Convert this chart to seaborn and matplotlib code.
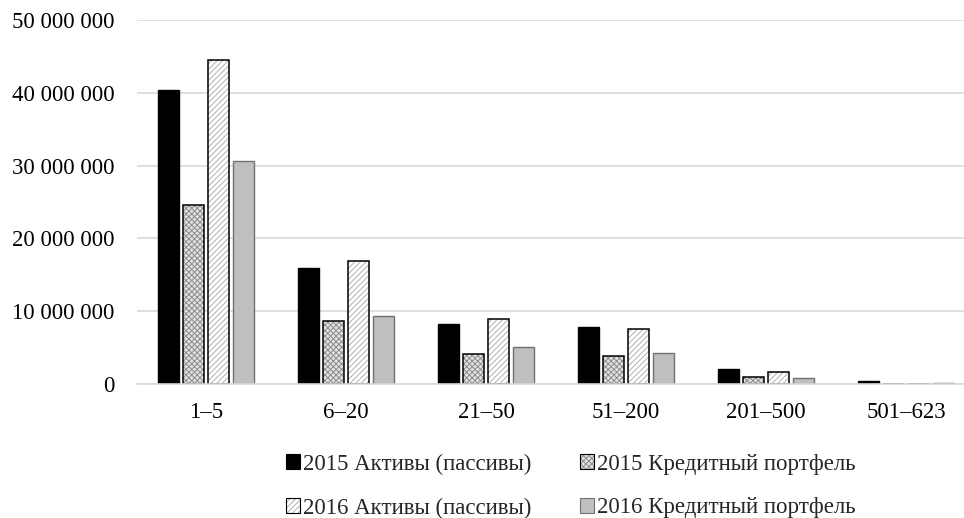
import matplotlib
matplotlib.use("Agg")
import matplotlib.pyplot as plt
import seaborn as sns
import pandas as pd
from matplotlib.patches import Rectangle, Patch
from matplotlib.ticker import FuncFormatter

categories = ["1–5", "6–20", "21–50", "51–200", "201–500", "501–623"]
series_names = ["2015 Активы (пассивы)", "2015 Кредитный портфель",
                "2016 Активы (пассивы)", "2016 Кредитный портфель"]
assets_2015 = [40400000, 15900000, 8200000, 7800000, 2100000, 350000]
credit_2015 = [24600000, 8600000, 4100000, 3800000, 1000000, 20000]
assets_2016 = [44500000, 16900000, 8900000, 7500000, 1600000, 30000]
credit_2016 = [30600000, 9400000, 5100000, 4300000, 850000, 150000]
y_ticks = [0, 10000000, 20000000, 30000000, 40000000, 50000000]

rows = []
for name, vals in zip(series_names, [assets_2015, credit_2015, assets_2016, credit_2016]):
    for c, v in zip(categories, vals):
        rows.append({"group": c, "series": name, "value": v})
df = pd.DataFrame(rows)

sns.set_theme(style="white")
plt.rcParams["font.family"] = ["Liberation Serif", "DejaVu Serif"]
plt.rcParams["hatch.linewidth"] = 0.7

fig = plt.figure(figsize=(9.64, 5.18), dpi=100)
ax = fig.add_axes([137 / 964, 1 - 384 / 518, 1 - 137 / 964, (384 - 20) / 518])

faces = ["#000000", "#e2e2e2", "#ffffff", "#bfbfbf"]
hatches = [None, "xxxxxx", "//////", None]
hatch_cols = [None, "#8c8c8c", "#b0b0b0", None]
edges = ["#000000", "#000000", "#000000", "#707070"]

sns.barplot(data=df, x="group", y="value", hue="series", order=categories,
            hue_order=series_names, palette=faces, width=0.714, gap=0.16,
            ax=ax, legend=False, saturation=1, errorbar=None)

n = len(categories)
for i, p in enumerate(list(ax.patches)):
    s = i // n
    p.set_facecolor(faces[s])
    if hatches[s]:
        p.set_hatch(hatches[s])
        p.set_edgecolor(hatch_cols[s])
        p.set_linewidth(0)
        ax.add_patch(Rectangle(p.get_xy(), p.get_width(), p.get_height(), fill=False,
                               edgecolor=edges[s], linewidth=1.1, zorder=p.get_zorder() + 0.1))
    else:
        p.set_edgecolor(edges[s])
        p.set_linewidth(1.0)

ax.set_xlim(-0.493, (964 - 206) / 140)
ax.set_ylim(0, 50000000)
ax.set_yticks(y_ticks)
ax.yaxis.set_major_formatter(FuncFormatter(lambda v, _: f"{int(v):,}".replace(",", " ")))
ax.grid(axis="y", color="#d9d9d9", linewidth=1.2)
ax.set_axisbelow(True)
for sp in ["top", "right", "left"]:
    ax.spines[sp].set_visible(False)
ax.spines["bottom"].set_color("#d9d9d9")
ax.spines["bottom"].set_linewidth(1.2)
ax.tick_params(axis="both", length=0, labelsize=16.5, colors="#000000")
ax.tick_params(axis="y", pad=16)
ax.tick_params(axis="x", pad=13)
ax.set_xlabel("")
ax.set_ylabel("")

handles = []
for s in range(4):
    if hatches[s]:
        h = (Patch(facecolor=faces[s], edgecolor=hatch_cols[s], hatch=hatches[s], linewidth=0),
             Patch(fill=False, edgecolor=edges[s], linewidth=0.8))
    else:
        h = Patch(facecolor=faces[s], edgecolor=edges[s], linewidth=0.8)
    handles.append(h)
order = [0, 2, 1, 3]
fig.legend([handles[k] for k in order], [series_names[k] for k in order],
           loc="center", bbox_to_anchor=(571 / 964, 1 - 486 / 518),
           ncol=2, frameon=False, fontsize=16.5, handlelength=0.6, handleheight=0.6,
           handletextpad=0.15, columnspacing=2.1, labelspacing=1.0)

fig.savefig("out.png", dpi=100)
